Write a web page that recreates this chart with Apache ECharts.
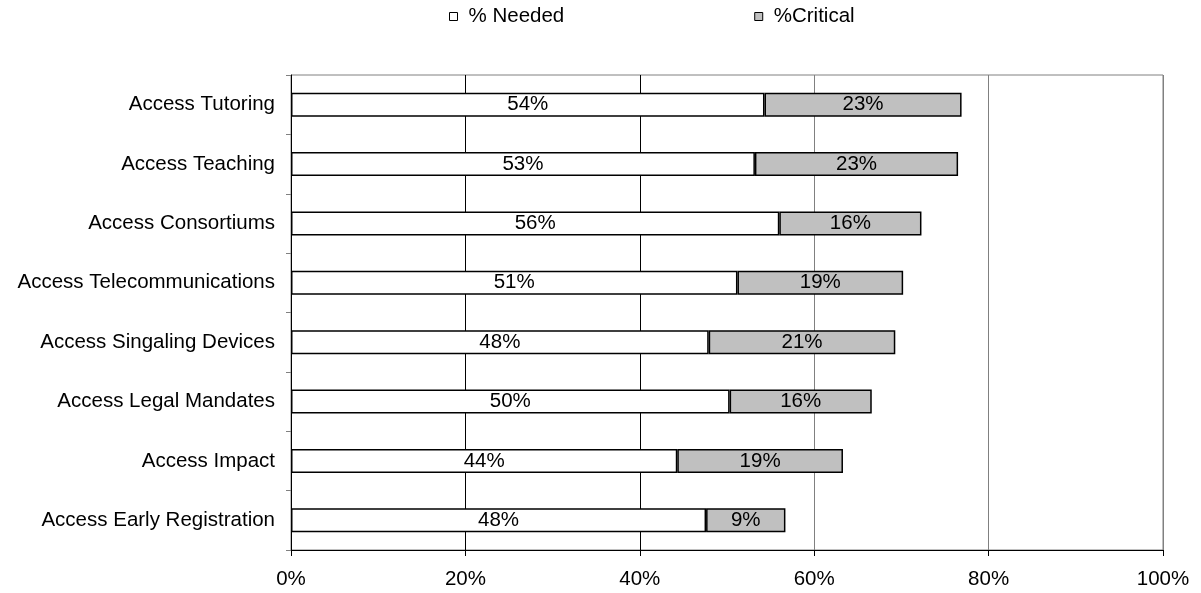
<!DOCTYPE html>
<html>
<head>
<meta charset="utf-8">
<script src="https://cdn.jsdelivr.net/npm/echarts@6/dist/echarts.min.js"></script>
<style>
  html, body { margin: 0; padding: 0; background: #fff; }
  #chart { width: 1201px; height: 593px; }
</style>
</head>
<body>
<div id="chart"></div>
<script>
// Survey items, listed top to bottom
const categories = [
  'Access Tutoring',
  'Access Teaching',
  'Access Consortiums',
  'Access Telecommunications',
  'Access Singaling Devices',
  'Access Legal Mandates',
  'Access Impact',
  'Access Early Registration'
];
// Share of respondents (%) rating each item as needed / critical
const neededPct = [54.3, 53.2, 56.0, 51.2, 47.9, 50.3, 44.3, 47.6];
const criticalPct = [22.6, 23.3, 16.3, 19.0, 21.4, 16.3, 19.0, 9.1];
const seriesNames = ['% Needed', '%Critical'];
const xTicks = [0, 20, 40, 60, 80, 100];

const FONT = '"Liberation Sans", Arial, sans-serif';
const TXT = 20.5;

const chart = echarts.init(document.getElementById('chart'), null, { renderer: 'canvas' });

const pctLabel = {
  show: true,
  position: 'inside',
  color: '#000',
  fontFamily: FONT,
  fontSize: TXT,
  formatter: p => Math.round(p.value) + '%'
};

chart.setOption({
  animation: false,
  backgroundColor: '#fff',
  textStyle: { fontFamily: FONT },
  legend: {
    data: seriesNames,
    left: 444,
    top: 1,
    itemWidth: 8,
    itemHeight: 8,
    itemGap: 190,
    icon: 'rect',
    textStyle: { fontFamily: FONT, fontSize: TXT, color: '#000', padding: [0, 0, 0, 6] },
    itemStyle: { borderColor: '#000', borderWidth: 1 }
  },
  grid: {
    left: 291,
    right: 38,
    top: 75,
    bottom: 43,
    show: true,
    borderColor: '#808080',
    borderWidth: 1,
    backgroundColor: '#fff'
  },
  xAxis: {
    type: 'value',
    min: xTicks[0],
    max: xTicks[xTicks.length - 1],
    interval: 20,
    axisLine: { show: true, lineStyle: { color: '#000', width: 1 } },
    axisTick: { show: true, length: 6, lineStyle: { color: '#000' } },
    axisLabel: {
      color: '#000',
      fontFamily: FONT,
      fontSize: TXT,
      margin: 19,
      formatter: '{value}%'
    },
    splitLine: {
      show: true,
      lineStyle: { color: ['#000', '#000', '#000', '#808080', '#808080', '#808080'], width: 1 }
    }
  },
  yAxis: {
    type: 'category',
    data: categories,
    inverse: true,
    axisLine: { show: true, lineStyle: { color: '#000', width: 1 } },
    axisTick: { show: true, length: 5, lineStyle: { color: '#808080' } },
    axisLabel: { color: '#000', fontFamily: FONT, fontSize: TXT, margin: 16 },
    splitLine: { show: false }
  },
  series: [
    {
      name: seriesNames[0],
      type: 'bar',
      stack: 'total',
      data: neededPct,
      barWidth: 24,
      itemStyle: { color: '#fff', borderColor: '#000', borderWidth: 1.5 },
      label: pctLabel
    },
    {
      name: seriesNames[1],
      type: 'bar',
      stack: 'total',
      data: criticalPct,
      barWidth: 24,
      itemStyle: { color: '#c0c0c0', borderColor: '#000', borderWidth: 1.5 },
      label: pctLabel
    }
  ]
});
</script>
</body>
</html>
